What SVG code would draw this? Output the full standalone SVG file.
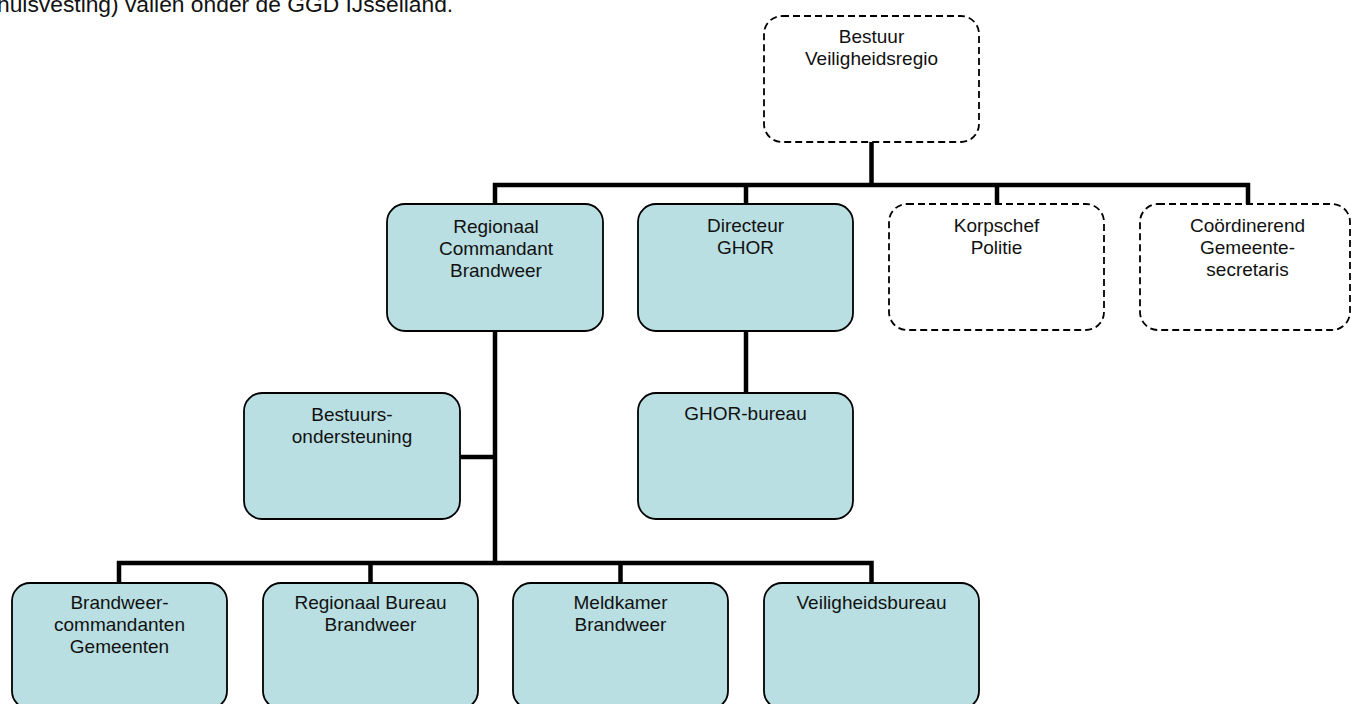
<svg xmlns="http://www.w3.org/2000/svg" width="1351" height="704" viewBox="0 0 1351 704">
<style>
  .box{fill:#b9dfe2;stroke:#000;stroke-width:1.8}
  .dash{fill:#fff;stroke:#000;stroke-width:1.8;stroke-dasharray:7 4}
  .t{font-family:"Liberation Sans",Arial,sans-serif;font-size:19px;fill:#111;text-anchor:middle}
  .body{font-family:"Liberation Sans",Arial,sans-serif;font-size:22.8px;fill:#111}
  .c{fill:none;stroke:#000;stroke-width:4.5;stroke-linejoin:miter;stroke-linecap:square}
</style>
<rect width="1351" height="704" fill="#fff"/>
<text class="body" x="-3" y="12">huisvesting) vallen onder de GGD IJsselland.</text>
<g id="connectors">
  <path class="c" d="M871.5 142 V185 M495 204 V185 H1248 V204 M746 185 V204 M997 185 V204"/>
  <path class="c" d="M495 331 V563 M460 457 H495 M119 583 V563 H871.5 V583 M370.5 563 V583 M620.5 563 V583"/>
  <path class="c" d="M746 331 V393"/>
</g>
<g id="bestuur">
  <rect class="dash" x="764" y="16" width="215" height="126" rx="18"/>
  <text class="t" x="871.5" y="43">Bestuur</text>
  <text class="t" x="871.5" y="65">Veiligheidsregio</text>
</g>
<g id="regionaal-commandant">
  <rect class="box" x="387" y="204" width="216" height="127" rx="18"/>
  <text class="t" x="496" y="233">Regionaal</text>
  <text class="t" x="496" y="255">Commandant</text>
  <text class="t" x="496" y="277">Brandweer</text>
</g>
<g id="directeur-ghor">
  <rect class="box" x="638" y="204" width="215" height="127" rx="18"/>
  <text class="t" x="745.5" y="232">Directeur</text>
  <text class="t" x="745.5" y="254">GHOR</text>
</g>
<g id="korpschef">
  <rect class="dash" x="889" y="204" width="215" height="126" rx="18"/>
  <text class="t" x="996.5" y="232">Korpschef</text>
  <text class="t" x="996.5" y="254">Politie</text>
</g>
<g id="coordinerend">
  <rect class="dash" x="1140" y="204" width="210" height="126" rx="18"/>
  <text class="t" x="1247.5" y="232">Coördinerend</text>
  <text class="t" x="1247.5" y="254">Gemeente-</text>
  <text class="t" x="1247.5" y="276">secretaris</text>
</g>
<g id="bestuursondersteuning">
  <rect class="box" x="244" y="393" width="216" height="126" rx="18"/>
  <text class="t" x="352" y="421">Bestuurs-</text>
  <text class="t" x="352" y="443">ondersteuning</text>
</g>
<g id="ghor-bureau">
  <rect class="box" x="638" y="393" width="215" height="126" rx="18"/>
  <text class="t" x="745.5" y="420">GHOR-bureau</text>
</g>
<g id="brandweercommandanten">
  <rect class="box" x="12" y="583" width="215" height="126" rx="18"/>
  <text class="t" x="119.5" y="609">Brandweer-</text>
  <text class="t" x="119.5" y="631">commandanten</text>
  <text class="t" x="119.5" y="653">Gemeenten</text>
</g>
<g id="regionaal-bureau">
  <rect class="box" x="263" y="583" width="215" height="126" rx="18"/>
  <text class="t" x="370.5" y="609">Regionaal Bureau</text>
  <text class="t" x="370.5" y="631">Brandweer</text>
</g>
<g id="meldkamer">
  <rect class="box" x="513" y="583" width="215" height="126" rx="18"/>
  <text class="t" x="620.5" y="609">Meldkamer</text>
  <text class="t" x="620.5" y="631">Brandweer</text>
</g>
<g id="veiligheidsbureau">
  <rect class="box" x="764" y="583" width="215" height="126" rx="18"/>
  <text class="t" x="871.5" y="609">Veiligheidsbureau</text>
</g>
</svg>
